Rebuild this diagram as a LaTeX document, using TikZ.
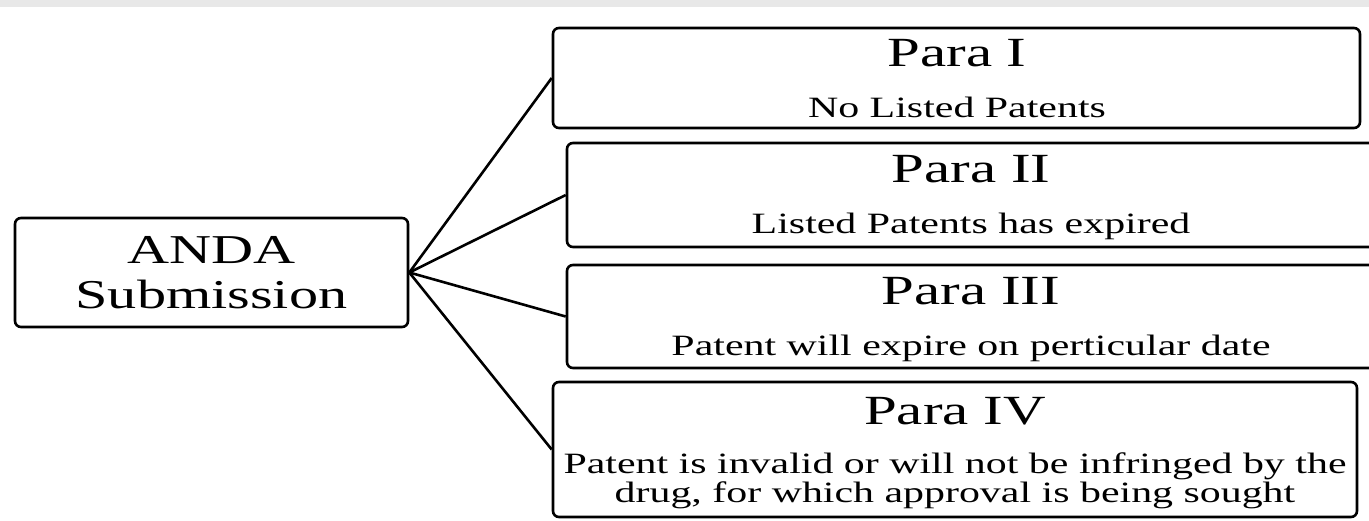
\documentclass[tikz,border=0pt]{standalone}
\usepackage{fontspec}
\setmainfont{Liberation Serif}[FakeStretch=1.42]
\begin{document}
\begin{tikzpicture}[x=1pt,y=-1pt,
  box/.style={draw=black,line width=2.6pt,rounded corners=6pt,inner sep=0pt,fill=white},
  link/.style={draw=black,line width=2.6pt},
  bigtxt/.style={anchor=base,inner sep=0pt,font=\fontsize{41}{45}\selectfont},
  title/.style={anchor=base,inner sep=0pt,font=\fontsize{41.5}{44}\selectfont},
  sub/.style={anchor=base,inner sep=0pt,font=\fontsize{29.5}{29}\selectfont}]
\useasboundingbox (0,0) rectangle (1369,520);
\fill[white] (0,0) rectangle (1369,520);
\fill[black!9] (0,0) rectangle (1369,7);
% boxes
\node[box,minimum width=393pt,minimum height=109pt] (anda) at (211.5,272.5) {};
\node[box,minimum width=807pt,minimum height=100pt] (p1) at (956.5,78) {};
\node[box,minimum width=808pt,minimum height=104pt] (p2) at (971,195) {};
\node[box,minimum width=808pt,minimum height=103pt] (p3) at (971,316.5) {};
\node[box,minimum width=804pt,minimum height=135pt] (p4) at (955,449.5) {};
% connectors
\draw[link] (anda.east) -- (p1.west);
\draw[link] (anda.east) -- (p2.west);
\draw[link] (anda.east) -- (p3.west);
\draw[link] (anda.east) -- (p4.west);
% texts
\node[bigtxt] (t0a) at (211.5,263) {ANDA};
\node[bigtxt] (t0b) at (211.5,308) {Submission};
\node[title] (t1) at (957,66) {Para I};
\node[sub] (s1) at (957,117) {No Listed Patents};
\node[title] (t2) at (971,182) {Para II};
\node[sub] (s2) at (971,233) {Listed Patents has expired};
\node[title] (t3) at (971,304) {Para III};
\node[sub] (s3) at (971,355) {Patent will expire on perticular date};
\node[title] (t4) at (955,424) {Para IV};
\node[sub] (s4a) at (955,473) {Patent is invalid or will not be infringed by the};
\node[sub] (s4b) at (955,502) {drug, for which approval is being sought};
\end{tikzpicture}
\end{document}
